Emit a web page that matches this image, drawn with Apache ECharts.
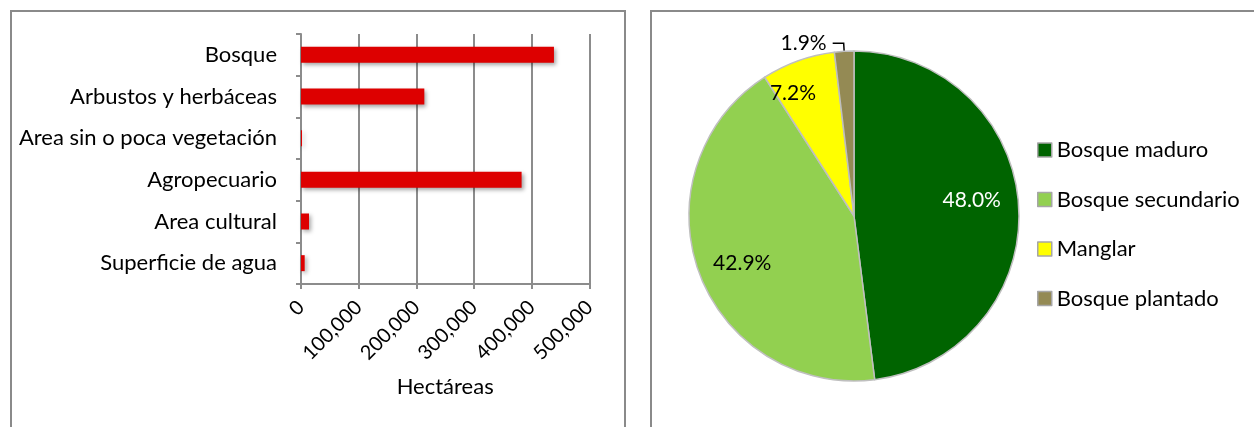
<!DOCTYPE html>
<html>
<head>
<meta charset="utf-8">
<script src="https://cdn.jsdelivr.net/npm/echarts@6/dist/echarts.min.js"></script>
<style>
html,body{margin:0;padding:0;background:#fff;}
#chart{width:1254px;height:427px;}
</style>
</head>
<body>
<div id="chart"></div>
<script>
// ---- data ----
const categories = ['Bosque', 'Arbustos y herbáceas', 'Area sin o poca vegetación', 'Agropecuario', 'Area cultural', 'Superficie de agua'];
const hectares = [438700, 213900, 1800, 382600, 13900, 6400];
const xAxisTicks = [0, 100000, 200000, 300000, 400000, 500000];
const coverNames = ['Bosque maduro', 'Bosque secundario', 'Manglar', 'Bosque plantado'];
const coverShares = [48.0, 42.9, 7.2, 1.9];

// ---- styles ----
const FONT = 'Lato';
const coverColors = ['#006400', '#92D050', '#FFFF00', '#948A54'];
const coverLabelColors = ['#ffffff', '#000000', '#000000', '#000000'];
const labelNudges = [[-3, -8], [2, 6], [-20, -9], [0, 0]];
const gridGray = '#8c8c8c';

const chart = echarts.init(document.getElementById('chart'), null, {renderer: 'canvas'});

const pieData = coverNames.map((n, i) => ({
  name: n,
  value: coverShares[i],
  itemStyle: {color: coverColors[i]},
  label: i === 3 ? {show: true, position: 'outside', color: '#000', fontSize: 21, fontFamily: FONT,
                    formatter: p => p.value.toFixed(1) + '%', distanceToLabelLine: 6,
                    padding: [0, 0, 13, 0]}
                 : {show: false},
  labelLine: i === 3 ? {show: true, length: 8, length2: 11, smooth: false,
                        lineStyle: {color: '#000', width: 1.5}} : {show: false}
}));

const pieLabelData = coverNames.map((n, i) => ({
  name: n,
  value: coverShares[i],
  label: {show: i !== 3, color: coverLabelColors[i]}
}));

const option = {
  animation: false,
  textStyle: {fontFamily: FONT},
  graphic: [
    {type: 'rect', shape: {x: 11, y: 11, width: 614, height: 440}, style: {fill: 'none', stroke: '#8a8a8a', lineWidth: 2}, silent: true},
    {type: 'rect', shape: {x: 651, y: 11, width: 640, height: 440}, style: {fill: 'none', stroke: '#8a8a8a', lineWidth: 2}, silent: true}
  ],
  grid: {left: 301, right: 1254 - 589.3, top: 34, bottom: 427 - 284, containLabel: false},
  xAxis: {
    type: 'value',
    min: xAxisTicks[0],
    max: xAxisTicks[xAxisTicks.length - 1],
    interval: xAxisTicks[1] - xAxisTicks[0],
    name: 'Hectáreas',
    nameLocation: 'middle',
    nameGap: 92,
    nameTextStyle: {fontSize: 22, color: '#000', fontFamily: FONT},
    axisLine: {show: true, lineStyle: {color: gridGray, width: 2}},
    axisTick: {show: true, length: 5, lineStyle: {color: gridGray, width: 2}},
    axisLabel: {rotate: 45, fontSize: 20, color: '#000', fontFamily: FONT, margin: 20,
                formatter: v => v.toLocaleString('en-US')},
    splitLine: {show: true, lineStyle: {color: gridGray, width: 2}}
  },
  yAxis: {
    type: 'category',
    data: categories,
    inverse: true,
    axisLine: {show: true, lineStyle: {color: gridGray, width: 2}},
    axisTick: {show: true, length: 5, inside: false, lineStyle: {color: gridGray, width: 2}},
    axisLabel: {fontSize: 22, color: '#000', fontFamily: FONT, margin: 24}
  },
  legend: {
    orient: 'vertical',
    left: 1037,
    top: 138,
    padding: 0,
    itemWidth: 14,
    itemHeight: 14,
    itemGap: 25.5,
    icon: 'rect',
    data: coverNames,
    textStyle: {fontSize: 22, color: '#000', fontFamily: FONT, lineHeight: 24},
    itemStyle: {borderColor: '#a6a6a6', borderWidth: 1.5}
  },
  series: [
    {
      type: 'bar',
      data: hectares,
      barWidth: 16,
      itemStyle: {color: '#DD0000', shadowBlur: 4, shadowOffsetX: 2, shadowOffsetY: 2, shadowColor: 'rgba(0,0,0,0.35)'},
      silent: true
    },
    {
      type: 'pie',
      center: [854, 216],
      radius: [0, 165],
      startAngle: 90,
      clockwise: true,
      avoidLabelOverlap: false,
      itemStyle: {borderColor: '#bfbfbf', borderWidth: 1.5},
      data: pieData,
      silent: true
    },
    {
      type: 'pie',
      center: [854, 216],
      radius: [71, 165],
      startAngle: 90,
      clockwise: true,
      avoidLabelOverlap: false,
      itemStyle: {color: 'rgba(0,0,0,0)', borderWidth: 0},
      label: {show: true, position: 'inside', fontSize: 21, fontFamily: FONT,
              formatter: p => p.value.toFixed(1) + '%'},
      labelLine: {show: false},
      labelLayout: p => ({dx: labelNudges[p.dataIndex][0], dy: labelNudges[p.dataIndex][1]}),
      data: pieLabelData,
      silent: true,
      legendHoverLink: false
    }
  ]
};
chart.setOption(option);
</script>
</body>
</html>
